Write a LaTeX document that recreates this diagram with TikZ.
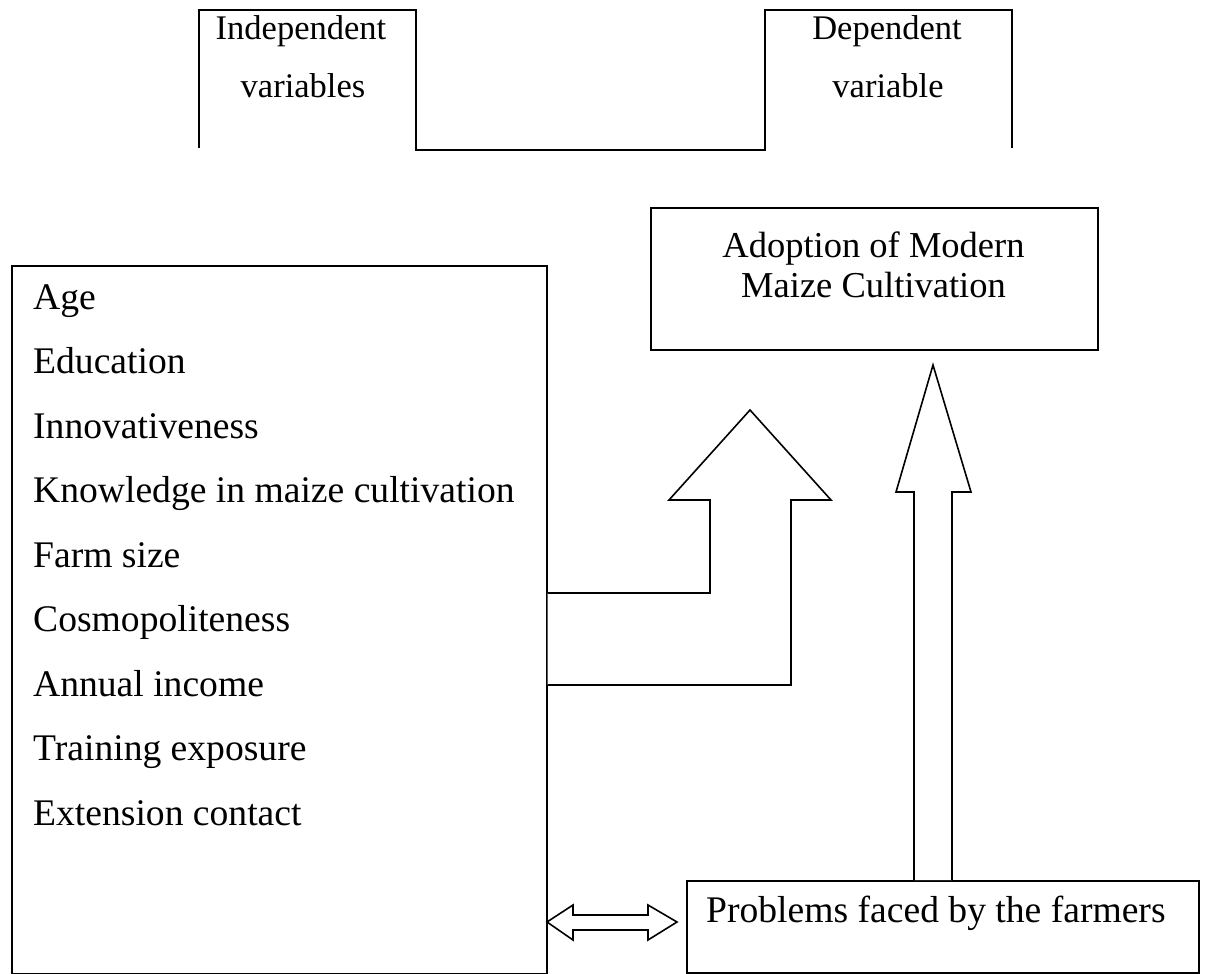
\documentclass[tikz,border=0pt]{standalone}
\usepackage{fontspec}
\setmainfont{Liberation Serif}
\begin{document}
\begin{tikzpicture}[x=1pt,y=-1pt,
  line join=miter,
  frame/.style={draw=black, line width=1.6pt, rectangle, inner sep=0pt, anchor=north west},
  shape line/.style={draw=black, line width=1.6pt, fill=white},
  head/.style={font=\fontsize{34.5}{40}\selectfont, inner sep=0pt, anchor=base},
  item/.style={font=\fontsize{37.6}{44}\selectfont, inner sep=0pt, anchor=base west},
  big/.style={font=\fontsize{36.5}{44}\selectfont, inner sep=0pt, anchor=base}]
\useasboundingbox (0,0) rectangle (1205,974);

% header frame
\coordinate (h1) at (199,148);
\coordinate (h2) at (199,10);
\coordinate (h3) at (416,10);
\coordinate (h4) at (416,150);
\coordinate (h5) at (765,150);
\coordinate (h6) at (765,10);
\coordinate (h7) at (1012,10);
\coordinate (h8) at (1012,148);
\draw[line width=1.5pt, line cap=butt] (h1) -- (h2) -- (h3) -- (h4) -- (h5) -- (h6) -- (h7) -- (h8);
\node[head] (indA) at (301,40) {Independent};
\node[head] (indB) at (303,98) {variables};
\node[head] (depA) at (887,40) {Dependent};
\node[head] (depB) at (888,98) {variable};

% main boxes
\node[frame, minimum width=535pt, minimum height=708pt] (ind) at (11,265) {};
\node[frame, minimum width=447pt, minimum height=142pt] (dep) at (650,207) {};
\node[frame, minimum width=512pt, minimum height=92pt] (prob) at (686,880) {};

% list of independent variables
\node[item] (v1) at (33,309) {Age};
\node[item] (v2) at (33,373.5) {Education};
\node[item] (v3) at (33,438) {Innovativeness};
\node[item] (v4) at (33,502.5) {Knowledge in maize cultivation};
\node[item] (v5) at (33,567) {Farm size};
\node[item] (v6) at (33,631.5) {Cosmopoliteness};
\node[item] (v7) at (33,696) {Annual income};
\node[item] (v8) at (33,760.5) {Training exposure};
\node[item] (v9) at (33,825) {Extension contact};

\node[big] (depT1) at (873.5,257) {Adoption of Modern};
\node[big] (depT2) at (873.5,297) {Maize Cultivation};
\node[item] (probT) at (706,922) {Problems faced by the farmers};

% bent block arrow from independent variables to dependent variable
\coordinate (yIn) at (0,593);
\coordinate (yOut) at (0,685);
\draw[shape line] (ind.east |- yIn) -- (710,593) -- (710,500) -- (669,500) -- (750,410)
  -- (831,500) -- (791,500) -- (791,685) -- (ind.east |- yOut);

% vertical block arrow from problems to dependent variable
\coordinate (vl) at (914,0);
\coordinate (vr) at (952,0);
\draw[shape line] (prob.north -| vl) -- (914,492) -- (896,492) -- (933,365) -- (971,492)
  -- (952,492) -- (prob.north -| vr);

% double block arrow between independent variables and problems
\draw[shape line] (547,922) -- (573,905) -- (573,915) -- (648,915) -- (648,905) -- (677,922)
  -- (648,940) -- (648,930) -- (573,930) -- (573,940) -- cycle;
\end{tikzpicture}
\end{document}
